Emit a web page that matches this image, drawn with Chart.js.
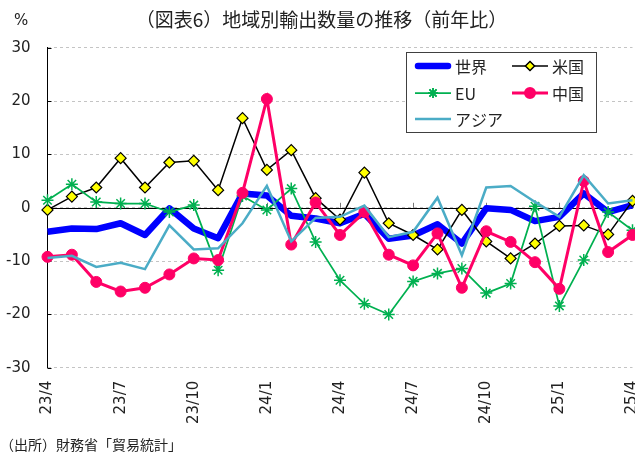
<!DOCTYPE html>
<html lang="ja">
<head>
  <meta charset="UTF-8">
  <title>地域別輸出数量の推移</title>
  <script src="https://cdn.jsdelivr.net/npm/chart.js"></script>
  <style>
    html, body { margin: 0; padding: 0; background: #fff; overflow: hidden; }
    #wrap { width: 635px; height: 452px; overflow: hidden; }
  </style>
</head>
<body>
<div id="wrap">
  <canvas id="exportChart" width="640" height="452"></canvas>
</div>
<script>
  // months 23/4 .. 25/4
  const months = ['23/4', '23/5', '23/6', '23/7', '23/8', '23/9', '23/10', '23/11', '23/12',
    '24/1', '24/2', '24/3', '24/4', '24/5', '24/6', '24/7', '24/8', '24/9', '24/10', '24/11', '24/12',
    '25/1', '25/2', '25/3', '25/4'];

  // 前年比 (%)
  const world = [-4.5, -3.9, -4.0, -2.9, -5.1, -0.1, -3.9, -5.7, 2.7, 2.3, -1.5, -2.0, -2.9,
    -1.1, -5.8, -5.2, -3.1, -6.7, -0.1, -0.4, -2.5, -1.7, 2.7, -0.8, 0.5];
  const usa = [-0.4, 2.1, 3.8, 9.3, 3.8, 8.5, 8.8, 3.3, 16.8, 7.1, 10.8, 1.8, -2.2,
    6.6, -2.9, -5.1, -7.8, -0.4, -6.3, -9.5, -6.7, -3.4, -3.3, -5.0, 1.3];
  const eu = [1.4, 4.4, 1.1, 0.8, 0.8, -0.8, 0.5, -11.7, 2.2, -0.4, 3.6, -6.4, -13.6,
    -18.0, -20.0, -13.8, -12.3, -11.4, -16.0, -14.2, 0.3, -18.4, -9.8, -0.8, -4.2];
  const china = [-9.2, -8.8, -13.9, -15.7, -15.0, -12.5, -9.5, -9.8, 2.8, 20.4, -6.9, 1.0, -5.1,
    -0.8, -8.8, -10.8, -4.8, -15.0, -4.4, -6.4, -10.2, -15.2, 5.0, -8.3, -5.1];
  const asia = [-9.4, -9.0, -11.1, -10.3, -11.5, -3.3, -7.8, -7.6, -2.9, 4.1, -6.3, -1.9, -1.7,
    0.4, -5.5, -4.5, 1.9, -8.9, 3.8, 4.1, 1.1, -1.7, 6.1, 0.8, 1.4];

  const yTicks = [-30, -20, -10, 0, 10, 20, 30];

  const numFont = "'DejaVu Sans', 'Noto Sans CJK JP', sans-serif";
  const jpFont = "'Noto Sans CJK JP', sans-serif";
  const textColor = '#222';

  // zero line, small tick marks, % label, footer
  const axisExtras = {
    id: 'axisExtras',
    beforeDatasetsDraw(chart) {
      const { ctx, chartArea, scales: { x, y } } = chart;
      const y0 = y.getPixelForValue(0);
      ctx.save();
      ctx.strokeStyle = '#000';
      ctx.lineWidth = 1;
      ctx.beginPath();
      ctx.moveTo(chartArea.left, Math.round(y0) + 0.5);
      ctx.lineTo(chartArea.right, Math.round(y0) + 0.5);
      ctx.stroke();
      // y ticks, inward
      yTicks.forEach(v => {
        const py = Math.round(y.getPixelForValue(v)) + 0.5;
        ctx.beginPath();
        ctx.moveTo(chartArea.left, py);
        ctx.lineTo(chartArea.left + 4, py);
        ctx.stroke();
      });
      // x ticks on the zero line
      ctx.strokeStyle = '#777';
      months.forEach((m, i) => {
        if (i % 3 !== 0 || i === 0) return;
        const px = Math.round(x.getPixelForValue(i)) + 0.5;
        ctx.beginPath();
        ctx.moveTo(px, y0);
        ctx.lineTo(px, y0 - 5);
        ctx.stroke();
      });
      ctx.restore();
    },
    afterDraw(chart) {
      const { ctx } = chart;
      ctx.save();
      ctx.fillStyle = textColor;
      ctx.textBaseline = 'middle';
      ctx.font = '15px ' + numFont;
      ctx.fillText('%', 14, 21);
      ctx.font = '14px ' + jpFont;
      ctx.fillText('（出所）財務省「貿易統計」', 0, 445);
      ctx.restore();
    }
  };

  // boxed legend inside the plot, two columns
  const boxLegend = {
    id: 'boxLegend',
    afterDraw(chart) {
      const { ctx } = chart;
      const spots = [[415, 66], [512, 66], [415, 93], [512, 93], [415, 119]];
      ctx.save();
      ctx.fillStyle = '#fff';
      ctx.fillRect(406.5, 52.5, 190, 80);
      ctx.strokeStyle = '#404040';
      ctx.lineWidth = 1;
      ctx.strokeRect(406.5, 52.5, 190, 80);
      chart.data.datasets.forEach((ds, i) => {
        const [lx, ly] = spots[i];
        ctx.strokeStyle = ds.borderColor;
        ctx.lineWidth = ds.borderWidth;
        ctx.lineCap = ds.borderWidth > 4 ? 'round' : 'butt';
        ctx.beginPath();
        ctx.moveTo(lx + (ds.borderWidth > 4 ? 3 : 0), ly);
        ctx.lineTo(lx + 36 - (ds.borderWidth > 4 ? 3 : 0), ly);
        ctx.stroke();
        if (ds.pointRadius > 0) {
          Chart.helpers.drawPoint(ctx, {
            pointStyle: ds.pointStyle,
            radius: ds.pointRadius - 1,
            borderWidth: ds.pointBorderWidth,
            rotation: 0
          }, lx + 18, ly);
          ctx.fillStyle = ds.pointBackgroundColor;
          ctx.strokeStyle = ds.pointBorderColor;
          ctx.lineWidth = ds.pointBorderWidth;
          if (ds.pointStyle !== 'star') ctx.fill();
          ctx.stroke();
        }
        ctx.fillStyle = textColor;
        ctx.font = '16px ' + jpFont;
        ctx.textBaseline = 'middle';
        ctx.fillText(ds.label, lx + 40, ly + 1);
      });
      ctx.restore();
    }
  };

  const ctx = document.getElementById('exportChart').getContext('2d');
  new Chart(ctx, {
    type: 'line',
    data: {
      labels: months,
      datasets: [
        { label: '世界', data: world, borderColor: '#0000FF', borderWidth: 6.5, pointRadius: 0,
          borderJoinStyle: 'round', order: 5 },
        { label: '米国', data: usa, borderColor: '#000000', borderWidth: 1.5, pointStyle: 'rectRot',
          pointRadius: 5.5, pointBackgroundColor: '#FFFF00', pointBorderColor: '#000000',
          pointBorderWidth: 1.2, order: 4 },
        { label: 'EU', data: eu, borderColor: '#00B050', borderWidth: 1.75, pointStyle: 'star',
          pointRadius: 6, pointBackgroundColor: '#00B050', pointBorderColor: '#00B050',
          pointBorderWidth: 1.5, order: 3 },
        { label: '中国', data: china, borderColor: '#FF0066', borderWidth: 3, pointStyle: 'circle',
          pointRadius: 5.5, pointBackgroundColor: '#FF0066', pointBorderColor: '#FF0066',
          pointBorderWidth: 1, order: 2 },
        { label: 'アジア', data: asia, borderColor: '#4BACC6', borderWidth: 2.5, pointRadius: 0, order: 1 }
      ]
    },
    options: {
      responsive: false,
      animation: false,
      events: [],
      layout: { padding: { left: 6, right: 3, top: 0, bottom: 28 } },
      elements: { line: { tension: 0 } },
      plugins: {
        legend: { display: false },
        tooltip: { enabled: false },
        title: {
          display: true,
          text: '（図表6）地域別輸出数量の推移（前年比）',
          color: textColor,
          font: { family: jpFont, size: 19, weight: 'normal' },
          padding: { top: 8, bottom: 17 }
        }
      },
      scales: {
        x: {
          grid: { display: false, drawTicks: false },
          border: { display: false },
          afterFit(scale) {
            scale.paddingLeft = 0;
            scale.paddingRight = 0;
            scale.height -= 13;
          },
          ticks: {
            autoSkip: false,
            minRotation: 90,
            maxRotation: 90,
            padding: 13,
            color: textColor,
            font: { family: numFont, size: 15 },
            callback: (v, i) => (i % 3 === 0 ? months[i] : '')
          }
        },
        y: {
          min: -30,
          max: 30,
          afterFit(scale) { scale.width -= 17; },
          grid: { color: '#c4c4c4', lineWidth: 1, drawTicks: false },
          border: { display: true, color: '#000', width: 1, dash: [3, 3] },
          ticks: {
            stepSize: 10,
            padding: 17,
            color: textColor,
            font: { family: numFont, size: 15 }
          }
        }
      }
    },
    plugins: [axisExtras, boxLegend]
  });
</script>
</body>
</html>
